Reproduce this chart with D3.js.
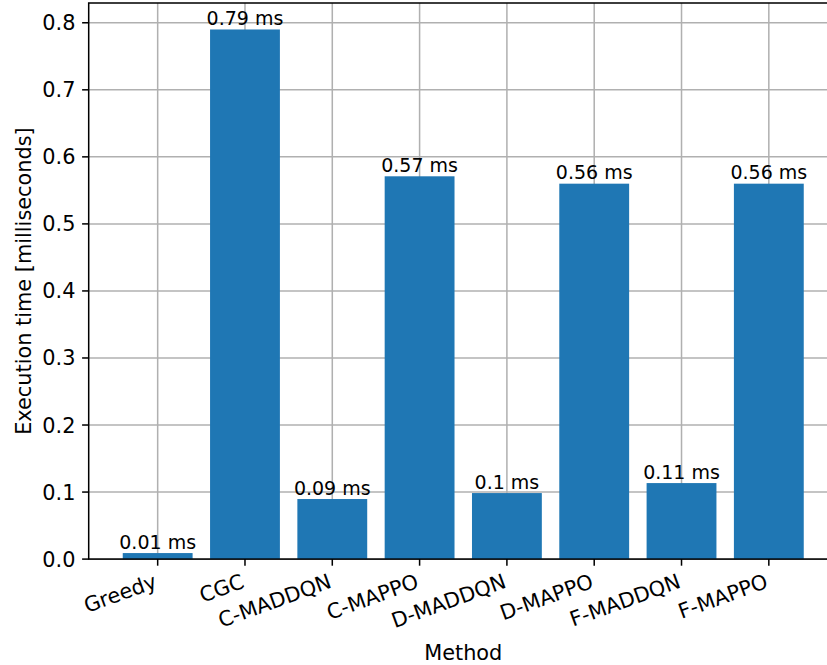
<!DOCTYPE html>
<html>
<head>
<meta charset="utf-8">
<script src="https://cdn.jsdelivr.net/npm/d3@7"></script>
<style>
  html, body { margin: 0; padding: 0; background: #fff; }
  svg { display: block; font-family: "DejaVu Sans", sans-serif; }
</style>
</head>
<body>
<svg id="chart" width="827" height="665"></svg>
<script>
// Execution time per method (milliseconds)
const methods = ["Greedy", "CGC", "C-MADDQN", "C-MAPPO", "D-MADDQN", "D-MAPPO", "F-MADDQN", "F-MAPPO"];
const execTimes = [0.009, 0.790, 0.0896, 0.571, 0.0985, 0.560, 0.1134, 0.560];
const yTicks = [0.0, 0.1, 0.2, 0.3, 0.4, 0.5, 0.6, 0.7, 0.8];

const svg = d3.select("#chart");
const plot = { left: 88.7, right: 837.8, top: 3, bottom: 559.1 };
const labelSize = 20.85;   // tick labels and axis titles
const valueSize = 19;      // value labels above bars
const barColor = "#1f77b4";
const gridColor = "#b0b0b0";
const tickLen = 6.6, tickPad = 6.6, lw = 1.52;

const n = methods.length;
const barW = 0.8;
const xMargin = (n - 1 + barW) * 0.05;
const x = d3.scaleLinear()
  .domain([-barW / 2 - xMargin, n - 1 + barW / 2 + xMargin])
  .range([plot.left, plot.right]);
const yMax = d3.max(execTimes) * 1.05;
const y = d3.scaleLinear().domain([0, yMax]).range([plot.bottom, plot.top]);

const root = svg.append("g");

// Grid lines
const grid = root.append("g");
grid.selectAll("line.gy").data(yTicks).join("line")
  .attr("x1", plot.left).attr("x2", plot.right)
  .attr("y1", d => y(d)).attr("y2", d => y(d))
  .attr("stroke", gridColor).attr("stroke-width", lw);
grid.selectAll("line.gx").data(d3.range(n)).join("line")
  .attr("x1", d => x(d)).attr("x2", d => x(d))
  .attr("y1", plot.top).attr("y2", plot.bottom)
  .attr("stroke", gridColor).attr("stroke-width", lw);

// Bars
root.append("g").selectAll("rect").data(execTimes).join("rect")
  .attr("x", (d, i) => x(i - barW / 2))
  .attr("width", (d, i) => x(i + barW / 2) - x(i - barW / 2))
  .attr("y", d => y(d))
  .attr("height", d => y(0) - y(d))
  .attr("fill", barColor);

// Value labels above the bars
const fmt = v => String(+v.toFixed(2)) + " ms";
root.append("g").selectAll("text").data(execTimes).join("text")
  .attr("x", (d, i) => x(i))
  .attr("y", d => y(d) - 4.5)
  .attr("text-anchor", "middle")
  .attr("font-size", valueSize)
  .attr("fill", "#000")
  .text(d => fmt(d));

// Spines
root.append("rect")
  .attr("x", plot.left).attr("y", plot.top)
  .attr("width", plot.right - plot.left).attr("height", plot.bottom - plot.top)
  .attr("fill", "none").attr("stroke", "#000").attr("stroke-width", lw);

// Y axis ticks and labels
const yAxis = root.append("g");
yAxis.selectAll("line").data(yTicks).join("line")
  .attr("x1", plot.left - tickLen).attr("x2", plot.left)
  .attr("y1", d => y(d)).attr("y2", d => y(d))
  .attr("stroke", "#000").attr("stroke-width", lw);
yAxis.selectAll("text").data(yTicks).join("text")
  .attr("x", plot.left - tickLen - tickPad)
  .attr("y", d => y(d))
  .attr("dy", "0.36em")
  .attr("text-anchor", "end")
  .attr("font-size", labelSize)
  .text(d => d.toFixed(1));

// X axis ticks and rotated labels
const xAxis = root.append("g");
xAxis.selectAll("line").data(d3.range(n)).join("line")
  .attr("x1", d => x(d)).attr("x2", d => x(d))
  .attr("y1", plot.bottom).attr("y2", plot.bottom + tickLen)
  .attr("stroke", "#000").attr("stroke-width", lw);
const rot = -20;
const labelTop = plot.bottom + tickLen + tickPad;
xAxis.selectAll("text").data(methods).join("text")
  .attr("transform", (d, i) => `translate(${x(i) - 5},${labelTop}) rotate(${rot})`)
  .attr("dy", "0.76em")
  .attr("text-anchor", "end")
  .attr("font-size", labelSize)
  .text(d => d);

// Axis titles
root.append("text")
  .attr("x", (plot.left + plot.right) / 2)
  .attr("y", 659.5)
  .attr("text-anchor", "middle")
  .attr("font-size", labelSize)
  .text("Method");
root.append("text")
  .attr("transform", `translate(31,${(plot.top + plot.bottom) / 2}) rotate(-90)`)
  .attr("text-anchor", "middle")
  .attr("font-size", labelSize)
  .text("Execution time [milliseconds]");
</script>
</body>
</html>
